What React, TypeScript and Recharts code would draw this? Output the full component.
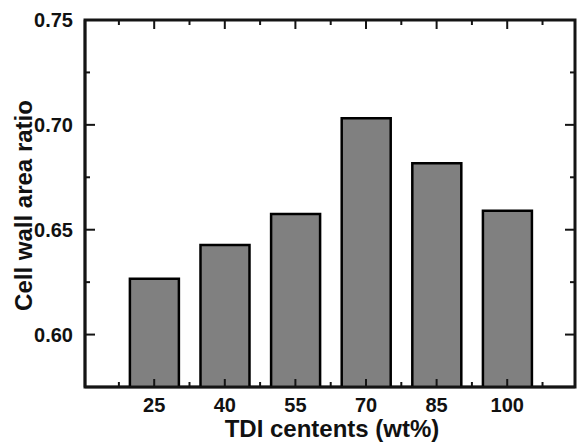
import React from "react";
import { Bar, BarChart, ReferenceArea, XAxis, YAxis } from "recharts";

// TDI content (wt%) on the x axis, one bar per sample
const tdiContents = [25, 40, 55, 70, 85, 100];
const cellWallAreaRatio = [0.6266, 0.6427, 0.6575, 0.7031, 0.6817, 0.6591];

// major ticks sit on the bars, minor ticks half way between them
const xTicks = [17.5, 25, 32.5, 40, 47.5, 55, 62.5, 70, 77.5, 85, 92.5, 100, 107.5];
const yTicks = [0.575, 0.6, 0.625, 0.65, 0.675, 0.7, 0.725, 0.75];
const yMajorTicks = [0.6, 0.65, 0.7, 0.75];

const xDomain = [10.3, 114.4];
const yDomain = [0.575, 0.75];

const FONT = '"Liberation Sans", Arial, sans-serif';
const INK = "#141414";

// layout of the frame (the plot area edges come out of these)
const WIDTH = 578;
const HEIGHT = 442;
const MARGIN_TOP = 20;
const MARGIN_RIGHT = 3;
const Y_AXIS_W = 85;
const X_AXIS_H = 55;

const PLOT_TOP = MARGIN_TOP;
const PLOT_BOTTOM = HEIGHT - X_AXIS_H;
const PLOT_LEFT = Y_AXIS_W;
const PLOT_RIGHT = WIDTH - MARGIN_RIGHT;

const data = tdiContents.map((tdi, i) => ({ tdi, ratio: cellWallAreaRatio[i] }));

const isMajorX = (v: number): boolean => tdiContents.includes(v);
const isMajorY = (v: number): boolean => yMajorTicks.some((t) => Math.abs(t - v) < 1e-6);

// ticks point into the plot on all four sides, like the original figure;
// the bottom axis also draws the mirrored top ticks, the left axis the right ones
const BottomTick = (props: any): React.ReactElement => {
	const { x, payload } = props;
	const major = isMajorX(payload.value);
	return (
		<g>
			<line x1={x} x2={x} y1={PLOT_BOTTOM} y2={PLOT_BOTTOM - (major ? 8 : 5)} stroke={INK} strokeWidth={2} />
			<line x1={x} x2={x} y1={PLOT_TOP} y2={PLOT_TOP + (major ? 9 : 5)} stroke={INK} strokeWidth={2} />
			{major && (
				<text
					x={x}
					y={PLOT_BOTTOM + 25}
					textAnchor="middle"
					fontFamily={FONT}
					fontWeight="bold"
					fontSize={20}
					fill="#111"
				>
					{payload.value}
				</text>
			)}
		</g>
	);
};

const LeftTick = (props: any): React.ReactElement => {
	const { y, payload } = props;
	const major = isMajorY(payload.value);
	return (
		<g>
			<line x1={PLOT_LEFT} x2={PLOT_LEFT + (major ? 10 : 5)} y1={y} y2={y} stroke={INK} strokeWidth={2} />
			<line x1={PLOT_RIGHT} x2={PLOT_RIGHT - (major ? 10 : 5)} y1={y} y2={y} stroke={INK} strokeWidth={2} />
			{major && (
				<text
					x={PLOT_LEFT - 12}
					y={y}
					dy="0.36em"
					textAnchor="end"
					fontFamily={FONT}
					fontWeight="bold"
					fontSize={20}
					fill="#111"
				>
					{payload.value.toFixed(2)}
				</text>
			)}
		</g>
	);
};

// axis titles, drawn straight into the chart's svg
const YTitle = (): React.ReactElement => {
	const cx = 32;
	const cy = (PLOT_TOP + PLOT_BOTTOM) / 2 + 2;
	return (
		<text
			x={cx}
			y={cy}
			transform={`rotate(-90, ${cx}, ${cy})`}
			textAnchor="middle"
			fontFamily={FONT}
			fontWeight="bold"
			fontSize={24}
			fill="#111"
		>
			Cell wall area ratio
		</text>
	);
};

const XTitle = (): React.ReactElement => (
	<text
		x={(PLOT_LEFT + PLOT_RIGHT) / 2 + 2}
		y={PLOT_BOTTOM + 50}
		textAnchor="middle"
		fontFamily={FONT}
		fontWeight="bold"
		fontSize={24}
		fill="#111"
	>
		TDI centents (wt%)
	</text>
);

const frameLine = { stroke: INK, strokeWidth: 2.5 };

export default function App(): React.ReactElement {
	return (
		<div style={{ position: "absolute", left: 0, top: 0, background: "#fff" }}>
			<BarChart
				width={WIDTH}
				height={HEIGHT}
				data={data}
				margin={{ top: MARGIN_TOP, right: MARGIN_RIGHT, bottom: 0, left: 0 }}
			>
				<XAxis
					dataKey="tdi"
					type="number"
					domain={xDomain}
					allowDataOverflow
					ticks={xTicks}
					interval={0}
					height={X_AXIS_H}
					tickLine={false}
					tick={<BottomTick />}
					axisLine={frameLine}
				/>
				<YAxis
					type="number"
					domain={yDomain}
					allowDataOverflow
					ticks={yTicks}
					interval={0}
					width={Y_AXIS_W}
					tickLine={false}
					tick={<LeftTick />}
					axisLine={frameLine}
				/>
				{/* the closed box around the plot */}
				<ReferenceArea
					x1={xDomain[0]}
					x2={xDomain[1]}
					y1={yDomain[0]}
					y2={yDomain[1]}
					fill="none"
					stroke={INK}
					strokeWidth={3}
					ifOverflow="visible"
				/>
				<Bar
					dataKey="ratio"
					barSize={49}
					fill="#808080"
					stroke="#000"
					strokeWidth={2.5}
					isAnimationActive={false}
				/>
				<XTitle />
				<YTitle />
			</BarChart>
		</div>
	);
}
